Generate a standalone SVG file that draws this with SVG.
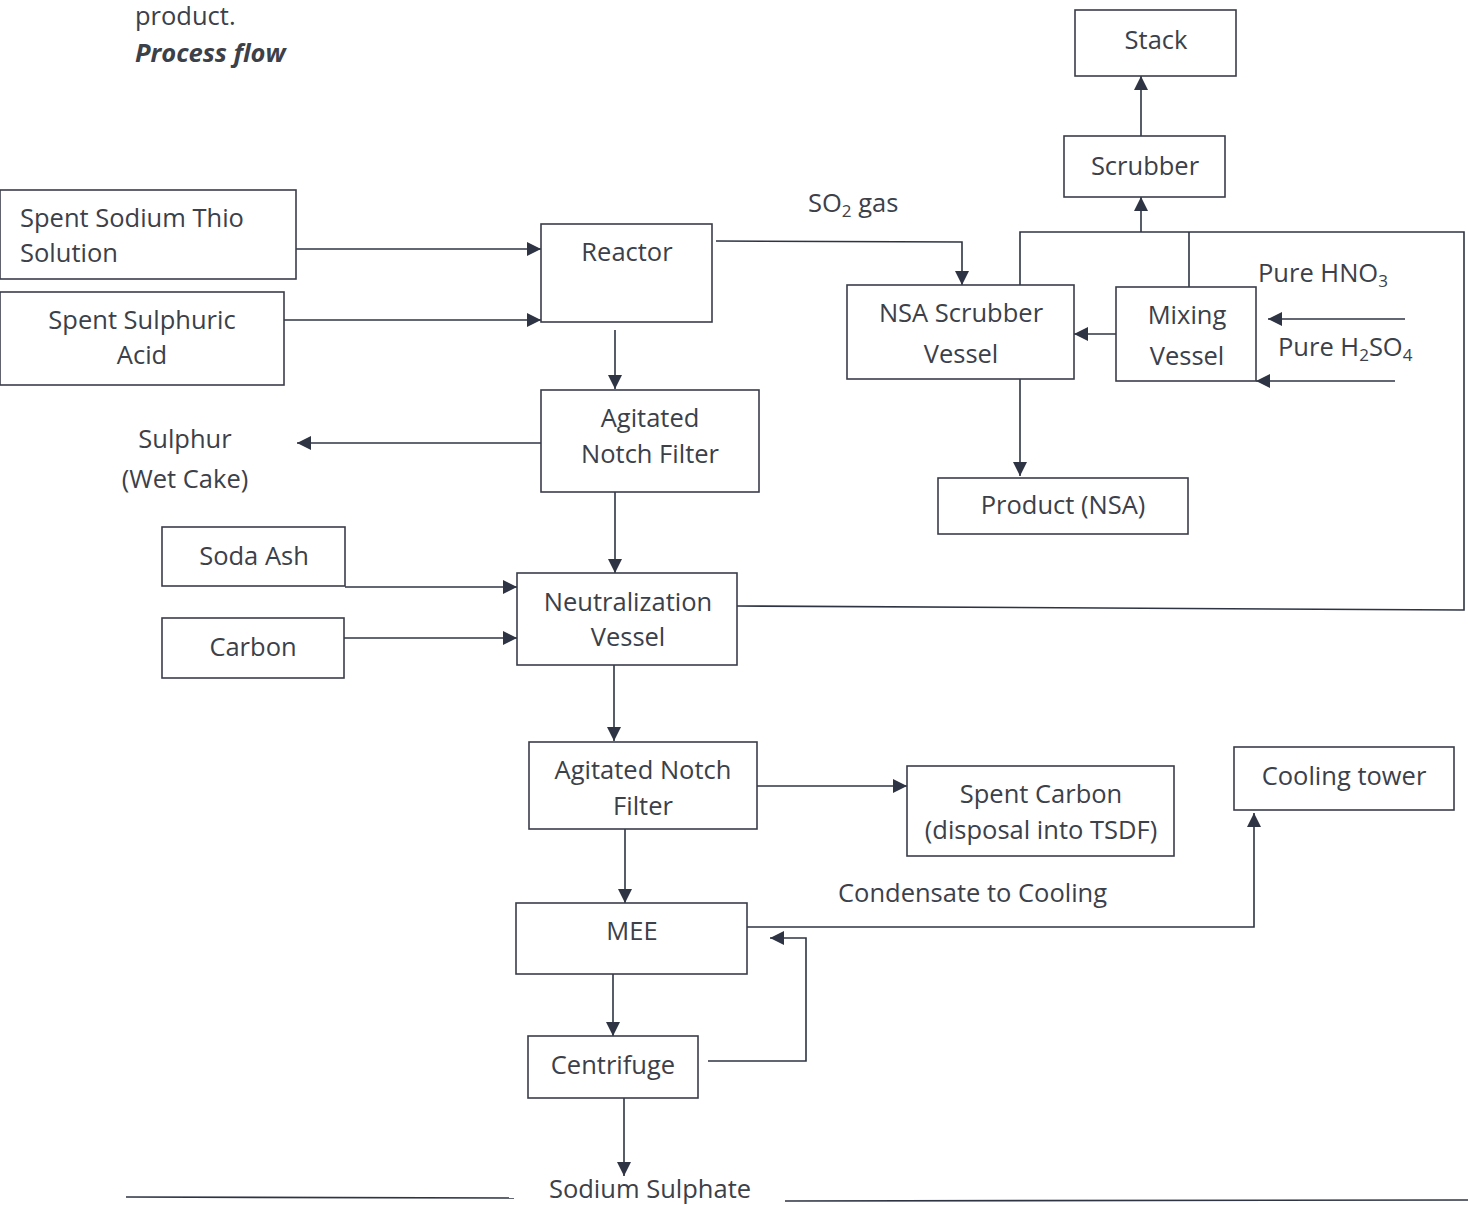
<svg xmlns="http://www.w3.org/2000/svg" width="1468" height="1205" viewBox="0 0 1468 1205">
<style>
.box{fill:#fff;stroke:#3a3e4a;stroke-width:1.6}
.t{font-family:"Open Sans","Liberation Sans",sans-serif;font-size:25.5px;fill:#3c4049}
.c{text-anchor:middle}
.ln{fill:none;stroke:#2e3444;stroke-width:1.6}
.sub{font-size:17px}
</style>
<defs>
<marker id="ah" viewBox="0 0 14 14" refX="14" refY="7" markerWidth="14" markerHeight="14" markerUnits="userSpaceOnUse" orient="auto">
<path d="M0,0 L14,7 L0,14 Z" fill="#2e3444"/>
</marker>
</defs>
<rect width="1468" height="1205" fill="#fff"/>
<text class="t" x="135" y="25">product.</text>
<text class="t" x="135" y="62" font-weight="bold" font-style="italic">Process flow</text>

<g id="connectors">
<line class="ln" x1="1141" y1="136" x2="1141" y2="76" marker-end="url(#ah)"/>
<line class="ln" x1="1141" y1="232" x2="1141" y2="197" marker-end="url(#ah)"/>
<polyline class="ln" points="737,606 1464,610 1464,232 1020,232 1020,285"/>
<line class="ln" x1="1189" y1="232" x2="1189" y2="287"/>
<line class="ln" x1="296" y1="249" x2="541" y2="249" marker-end="url(#ah)"/>
<line class="ln" x1="284" y1="320" x2="541" y2="320" marker-end="url(#ah)"/>
<polyline class="ln" points="716,241 962,242 962,285" marker-end="url(#ah)"/>
<line class="ln" x1="1116" y1="334" x2="1074" y2="334" marker-end="url(#ah)"/>
<line class="ln" x1="1405" y1="319" x2="1268" y2="319" marker-end="url(#ah)"/>
<line class="ln" x1="1395" y1="381" x2="1256" y2="381" marker-end="url(#ah)"/>
<line class="ln" x1="1020" y1="379" x2="1020" y2="476" marker-end="url(#ah)"/>
<line class="ln" x1="615" y1="330" x2="615" y2="389" marker-end="url(#ah)"/>
<line class="ln" x1="541" y1="443" x2="297" y2="443" marker-end="url(#ah)"/>
<line class="ln" x1="615" y1="492" x2="615" y2="573" marker-end="url(#ah)"/>
<line class="ln" x1="345" y1="587" x2="517" y2="587" marker-end="url(#ah)"/>
<line class="ln" x1="344" y1="638" x2="517" y2="638" marker-end="url(#ah)"/>
<line class="ln" x1="614" y1="665" x2="614" y2="741" marker-end="url(#ah)"/>
<line class="ln" x1="757" y1="786" x2="907" y2="786" marker-end="url(#ah)"/>
<line class="ln" x1="625" y1="829" x2="625" y2="903" marker-end="url(#ah)"/>
<polyline class="ln" points="747,927 1254,927 1254,813" marker-end="url(#ah)"/>
<polyline class="ln" points="708,1061 806,1061 806,938 770,938" marker-end="url(#ah)"/>
<line class="ln" x1="613" y1="974" x2="613" y2="1036" marker-end="url(#ah)"/>
<line class="ln" x1="624" y1="1098" x2="624" y2="1176" marker-end="url(#ah)"/>
<line class="ln" x1="126" y1="1197" x2="514" y2="1198"/>
<line class="ln" x1="785" y1="1201" x2="1468" y2="1200"/>
</g>

<g id="stack"><rect class="box" x="1075" y="10" width="161" height="66"/><text class="t c" x="1156" y="49">Stack</text></g>
<g id="scrubber"><rect class="box" x="1064" y="136" width="161" height="61"/><text class="t c" x="1145" y="175">Scrubber</text></g>
<g id="thio"><rect class="box" x="0" y="190" width="296" height="89"/><text class="t" x="20" y="227">Spent Sodium Thio</text><text class="t" x="20" y="262">Solution</text></g>
<g id="sulphuric"><rect class="box" x="0" y="292" width="284" height="93"/><text class="t c" x="142" y="329">Spent Sulphuric</text><text class="t c" x="142" y="364">Acid</text></g>
<g id="reactor"><rect class="box" x="541" y="224" width="171" height="98"/><text class="t c" x="627" y="261">Reactor</text></g>
<g id="so2label"><text class="t" x="808" y="212">SO<tspan class="sub" dy="5">2</tspan><tspan dy="-5"> gas</tspan></text></g>
<g id="nsa-scrubber"><rect class="box" x="847" y="285" width="227" height="94"/><text class="t c" x="961" y="322">NSA Scrubber</text><text class="t c" x="961" y="363">Vessel</text></g>
<g id="mixing"><rect class="box" x="1116" y="287" width="140" height="94"/><text class="t c" x="1187" y="324">Mixing</text><text class="t c" x="1187" y="365">Vessel</text></g>
<g id="hno3"><text class="t" x="1258" y="282">Pure HNO<tspan class="sub" dy="5">3</tspan></text></g>
<g id="h2so4"><text class="t" x="1278" y="356">Pure H<tspan class="sub" dy="5">2</tspan><tspan dy="-5">SO</tspan><tspan class="sub" dy="5">4</tspan></text></g>
<g id="product"><rect class="box" x="938" y="478" width="250" height="56"/><text class="t c" x="1063" y="514">Product (NSA)</text></g>
<g id="anf1"><rect class="box" x="541" y="390" width="218" height="102"/><text class="t c" x="650" y="427">Agitated</text><text class="t c" x="650" y="463">Notch Filter</text></g>
<g id="sulphur"><text class="t c" x="185" y="448">Sulphur</text><text class="t c" x="185" y="488">(Wet Cake)</text></g>
<g id="soda"><rect class="box" x="162" y="527" width="183" height="59"/><text class="t c" x="254" y="565">Soda Ash</text></g>
<g id="carbon"><rect class="box" x="162" y="618" width="182" height="60"/><text class="t c" x="253" y="656">Carbon</text></g>
<g id="neutral"><rect class="box" x="517" y="573" width="220" height="92"/><text class="t c" x="628" y="611">Neutralization</text><text class="t c" x="628" y="646">Vessel</text></g>
<g id="anf2"><rect class="box" x="529" y="742" width="228" height="87"/><text class="t c" x="643" y="779">Agitated Notch</text><text class="t c" x="643" y="815">Filter</text></g>
<g id="spentcarbon"><rect class="box" x="907" y="766" width="267" height="90"/><text class="t c" x="1041" y="803">Spent Carbon</text><text class="t c" x="1041" y="839">(disposal into TSDF)</text></g>
<g id="cooling"><rect class="box" x="1234" y="747" width="220" height="63"/><text class="t c" x="1344" y="785">Cooling tower</text></g>
<g id="condensate"><text class="t" x="838" y="902">Condensate to Cooling</text></g>
<g id="mee"><rect class="box" x="516" y="903" width="231" height="71"/><text class="t c" x="632" y="940">MEE</text></g>
<g id="centrifuge"><rect class="box" x="528" y="1036" width="170" height="62"/><text class="t c" x="613" y="1074">Centrifuge</text></g>
<g id="sodsulph"><text class="t c" x="650" y="1198">Sodium Sulphate</text></g>
</svg>
